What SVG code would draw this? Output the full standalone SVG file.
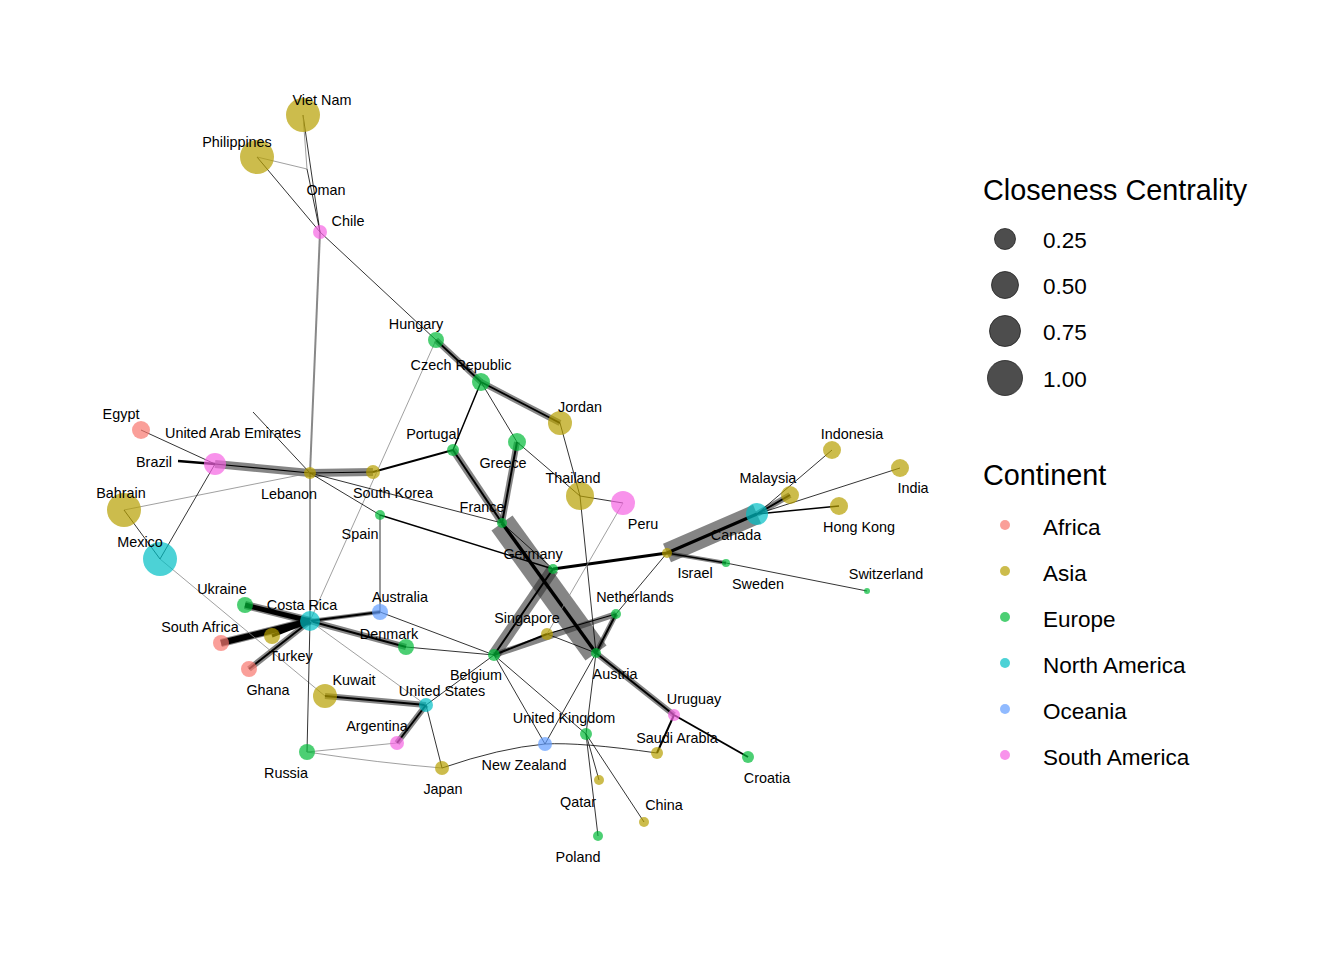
<svg xmlns="http://www.w3.org/2000/svg" width="1344" height="960" viewBox="0 0 1344 960">
<style>
.t{stroke:#000;stroke-width:0.8;fill:none}
.g{stroke:#888;stroke-width:0.8;fill:none}
.b{stroke:#333;stroke-opacity:0.6;fill:none}
.k{stroke:#000;fill:none}
.n circle{fill-opacity:0.7}
.af{fill:#F8766D}.as{fill:#B79F00}.eu{fill:#00BA38}.na{fill:#00BFC4}.oc{fill:#619CFF}.sa{fill:#F564E3}
text{font-family:"Liberation Sans",Arial,sans-serif;fill:#000}
.l{font-size:14.4px;text-anchor:middle}
.lt{font-size:28.8px}
.ll{font-size:22.5px}
</style>
<rect width="1344" height="960" fill="#fff"/>
<g id="edges">
<line class="b" x1="502" y1="523" x2="596" y2="653" stroke-width="26"/>
<line class="b" x1="667" y1="553" x2="757" y2="514" stroke-width="20"/>
<line class="b" x1="553" y1="569" x2="494" y2="655" stroke-width="12"/>
<line class="b" x1="310" y1="473" x2="373" y2="472" stroke-width="8"/>
<line class="b" x1="215" y1="464" x2="310" y2="473" stroke-width="8"/>
<line class="b" x1="436" y1="340" x2="481" y2="382" stroke-width="6"/>
<line class="b" x1="481" y1="382" x2="560" y2="423" stroke-width="6"/>
<line class="b" x1="453" y1="450" x2="502" y2="523" stroke-width="7"/>
<line class="b" x1="517" y1="442" x2="502" y2="523" stroke-width="6"/>
<line class="b" x1="494" y1="655" x2="616" y2="614" stroke-width="6"/>
<line class="b" x1="616" y1="614" x2="596" y2="653" stroke-width="5"/>
<line class="b" x1="667" y1="553" x2="726" y2="563" stroke-width="4"/>
<line class="b" x1="757" y1="514" x2="790" y2="495" stroke-width="6"/>
<line class="b" x1="596" y1="653" x2="674" y2="715" stroke-width="6"/>
<line class="b" x1="397" y1="743" x2="426" y2="705" stroke-width="6"/>
<line class="b" x1="325" y1="696" x2="426" y2="705" stroke-width="6"/>
<line class="b" x1="310" y1="621" x2="245" y2="605" stroke-width="8"/>
<line class="b" x1="310" y1="621" x2="221" y2="643" stroke-width="8"/>
<line class="b" x1="310" y1="621" x2="249" y2="669" stroke-width="6"/>
<line class="b" x1="310" y1="621" x2="380" y2="612" stroke-width="4"/>
<line class="b" x1="310" y1="621" x2="406" y2="647" stroke-width="6"/>
<line x1="320" y1="232" x2="310" y2="473" stroke="#888" stroke-width="2"/>
<line class="k" x1="502" y1="523" x2="596" y2="653" stroke-width="3.5"/>
<line class="k" x1="667" y1="553" x2="757" y2="514" stroke-width="3"/>
<line class="k" x1="553" y1="569" x2="494" y2="655" stroke-width="2"/>
<line class="k" x1="310" y1="473" x2="373" y2="472" stroke-width="1.2"/>
<line class="k" x1="215" y1="464" x2="310" y2="473" stroke-width="1.2"/>
<line class="k" x1="436" y1="340" x2="481" y2="382" stroke-width="1.8"/>
<line class="k" x1="481" y1="382" x2="560" y2="423" stroke-width="1.8"/>
<line class="k" x1="453" y1="450" x2="502" y2="523" stroke-width="2"/>
<line class="k" x1="517" y1="442" x2="502" y2="523" stroke-width="2"/>
<line class="k" x1="494" y1="655" x2="547" y2="634" stroke-width="2"/>
<line class="k" x1="547" y1="634" x2="616" y2="614" stroke-width="1.2"/>
<line class="k" x1="616" y1="614" x2="596" y2="653" stroke-width="2"/>
<line class="k" x1="667" y1="553" x2="726" y2="563" stroke-width="1.5"/>
<line class="k" x1="757" y1="514" x2="790" y2="495" stroke-width="2"/>
<line class="k" x1="596" y1="653" x2="674" y2="715" stroke-width="2"/>
<line class="k" x1="397" y1="743" x2="426" y2="705" stroke-width="2"/>
<line class="k" x1="325" y1="696" x2="426" y2="705" stroke-width="2"/>
<line class="k" x1="310" y1="621" x2="245" y2="605" stroke-width="5"/>
<line class="k" x1="310" y1="621" x2="221" y2="643" stroke-width="6"/>
<line class="k" x1="310" y1="621" x2="272" y2="636" stroke-width="3"/>
<line class="k" x1="310" y1="621" x2="249" y2="669" stroke-width="2"/>
<line class="k" x1="310" y1="621" x2="380" y2="612" stroke-width="2"/>
<line class="k" x1="310" y1="621" x2="406" y2="647" stroke-width="2"/>
<line class="k" x1="453" y1="450" x2="373" y2="472" stroke-width="2"/>
<line class="k" x1="481" y1="382" x2="453" y2="450" stroke-width="1.5"/>
<line class="k" x1="553" y1="569" x2="667" y2="553" stroke-width="3"/>
<line class="k" x1="380" y1="515" x2="553" y2="569" stroke-width="1.5"/>
<line class="k" x1="178" y1="461" x2="215" y2="464" stroke-width="2.5"/>
<line class="k" x1="674" y1="715" x2="748" y2="757" stroke-width="2"/>
<line class="k" x1="674" y1="715" x2="657" y2="753" stroke-width="2"/>
<line class="k" x1="757" y1="514" x2="839" y2="506" stroke-width="1.5"/>
<line class="t" x1="303" y1="115" x2="320" y2="232"/>
<line class="t" x1="257" y1="157" x2="320" y2="232"/>
<line class="g" x1="303" y1="115" x2="307" y2="169"/>
<line class="g" x1="257" y1="157" x2="307" y2="169"/>
<line class="t" x1="307" y1="169" x2="320" y2="232"/>
<line class="t" x1="320" y1="232" x2="436" y2="340" stroke="#444"/>
<line class="t" x1="481" y1="382" x2="517" y2="442"/>
<line class="t" x1="517" y1="442" x2="580" y2="496"/>
<line class="t" x1="560" y1="423" x2="580" y2="496"/>
<line class="t" x1="580" y1="496" x2="596" y2="653"/>
<line class="t" x1="580" y1="496" x2="623" y2="503"/>
<line class="g" x1="623" y1="503" x2="547" y2="634"/>
<line class="g" x1="436" y1="340" x2="310" y2="621"/>
<line class="t" x1="141" y1="430" x2="215" y2="464"/>
<line class="t" x1="253" y1="412" x2="310" y2="473"/>
<line class="g" x1="124" y1="510" x2="310" y2="473"/>
<line class="t" x1="124" y1="510" x2="160" y2="559"/>
<line class="t" x1="215" y1="464" x2="160" y2="559" stroke="#333"/>
<line class="g" x1="160" y1="559" x2="325" y2="696"/>
<line class="t" x1="310" y1="473" x2="380" y2="515"/>
<line class="t" x1="310" y1="473" x2="502" y2="523"/>
<line class="t" x1="310" y1="473" x2="310" y2="621"/>
<line class="t" x1="310" y1="621" x2="307" y2="752"/>
<line class="t" x1="380" y1="515" x2="380" y2="612"/>
<line class="t" x1="502" y1="523" x2="553" y2="569"/>
<line class="t" x1="547" y1="634" x2="596" y2="653"/>
<line class="t" x1="616" y1="614" x2="667" y2="553"/>
<line class="t" x1="726" y1="563" x2="867" y2="591"/>
<line class="t" x1="757" y1="514" x2="832" y2="450"/>
<line class="t" x1="757" y1="514" x2="900" y2="468"/>
<line class="t" x1="596" y1="653" x2="586" y2="734"/>
<line class="t" x1="596" y1="653" x2="545" y2="744"/>
<line class="t" x1="494" y1="655" x2="545" y2="744" stroke="#444"/>
<line class="t" x1="494" y1="655" x2="586" y2="734"/>
<line class="t" x1="586" y1="734" x2="599" y2="780"/>
<line class="t" x1="586" y1="734" x2="598" y2="836"/>
<line class="t" x1="586" y1="734" x2="644" y2="822"/>
<path class="t" d="M545 744 Q580 742 657 753"/>
<path class="t" d="M545 744 Q500 748 442 768"/>
<path class="g" d="M442 768 Q380 763 307 752"/>
<line class="g" x1="307" y1="752" x2="397" y2="743"/>
<line class="t" x1="426" y1="705" x2="442" y2="768"/>
<line class="t" x1="426" y1="705" x2="494" y2="655"/>
<line class="g" x1="310" y1="621" x2="426" y2="705"/>
<line class="t" x1="380" y1="612" x2="494" y2="655"/>
<line class="t" x1="406" y1="647" x2="494" y2="655"/>
</g>
<g id="node-vietnam" class="n"><circle class="as" cx="303" cy="115" r="17"/><text class="l" x="322" y="105">Viet Nam</text></g>
<g id="node-philippines" class="n"><circle class="as" cx="257" cy="157" r="17"/><text class="l" x="237" y="147">Philippines</text></g>
<g id="node-oman" class="n"><text class="l" x="326" y="195">Oman</text></g>
<g id="node-chile" class="n"><circle class="sa" cx="320" cy="232" r="7"/><text class="l" x="348" y="226">Chile</text></g>
<g id="node-hungary" class="n"><circle class="eu" cx="436" cy="340" r="8"/><text class="l" x="416" y="329">Hungary</text></g>
<g id="node-czech" class="n"><circle class="eu" cx="481" cy="382" r="9"/><text class="l" x="461" y="370">Czech Republic</text></g>
<g id="node-jordan" class="n"><circle class="as" cx="560" cy="423" r="12"/><text class="l" x="580" y="412">Jordan</text></g>
<g id="node-portugal" class="n"><circle class="eu" cx="453" cy="450" r="6"/><text class="l" x="433" y="439">Portugal</text></g>
<g id="node-greece" class="n"><circle class="eu" cx="517" cy="442" r="9"/><text class="l" x="503" y="468">Greece</text></g>
<g id="node-thailand" class="n"><circle class="as" cx="580" cy="496" r="14"/><text class="l" x="573" y="483">Thailand</text></g>
<g id="node-peru" class="n"><circle class="sa" cx="623" cy="503" r="12"/><text class="l" x="643" y="529">Peru</text></g>
<g id="node-france" class="n"><circle class="eu" cx="502" cy="523" r="5"/><text class="l" x="482" y="512">France</text></g>
<g id="node-germany" class="n"><circle class="eu" cx="553" cy="569" r="5"/><text class="l" x="533" y="559">Germany</text></g>
<g id="node-egypt" class="n"><circle class="af" cx="141" cy="430" r="9"/><text class="l" x="121" y="419">Egypt</text></g>
<g id="node-uae" class="n"><text class="l" x="233" y="438">United Arab Emirates</text></g>
<g id="node-brazil" class="n"><circle class="sa" cx="215" cy="464" r="11"/><text class="l" x="154" y="467">Brazil</text></g>
<g id="node-lebanon" class="n"><circle class="as" cx="310" cy="473" r="6"/><text class="l" x="289" y="499">Lebanon</text></g>
<g id="node-southkorea" class="n"><circle class="as" cx="373" cy="472" r="7"/><text class="l" x="393" y="498">South Korea</text></g>
<g id="node-bahrain" class="n"><circle class="as" cx="124" cy="510" r="17"/><text class="l" x="121" y="498">Bahrain</text></g>
<g id="node-mexico" class="n"><circle class="na" cx="160" cy="559" r="17"/><text class="l" x="140" y="547">Mexico</text></g>
<g id="node-spain" class="n"><circle class="eu" cx="380" cy="515" r="5"/><text class="l" x="360" y="539">Spain</text></g>
<g id="node-ukraine" class="n"><circle class="eu" cx="245" cy="605" r="8"/><text class="l" x="222" y="594">Ukraine</text></g>
<g id="node-costarica" class="n"><circle class="na" cx="310" cy="621" r="10"/><text class="l" x="302" y="610">Costa Rica</text></g>
<g id="node-australia" class="n"><circle class="oc" cx="380" cy="612" r="8"/><text class="l" x="400" y="602">Australia</text></g>
<g id="node-southafrica" class="n"><circle class="af" cx="221" cy="643" r="8"/><text class="l" x="200" y="632">South Africa</text></g>
<g id="node-turkey" class="n"><circle class="as" cx="272" cy="636" r="8"/><text class="l" x="291" y="661">Turkey</text></g>
<g id="node-denmark" class="n"><circle class="eu" cx="406" cy="647" r="8"/><text class="l" x="389" y="639">Denmark</text></g>
<g id="node-ghana" class="n"><circle class="af" cx="249" cy="669" r="8"/><text class="l" x="268" y="695">Ghana</text></g>
<g id="node-kuwait" class="n"><circle class="as" cx="325" cy="696" r="12"/><text class="l" x="354" y="685">Kuwait</text></g>
<g id="node-unitedstates" class="n"><circle class="na" cx="426" cy="705" r="7"/><text class="l" x="442" y="696">United States</text></g>
<g id="node-argentina" class="n"><circle class="sa" cx="397" cy="743" r="7"/><text class="l" x="377" y="731">Argentina</text></g>
<g id="node-russia" class="n"><circle class="eu" cx="307" cy="752" r="8"/><text class="l" x="286" y="778">Russia</text></g>
<g id="node-japan" class="n"><circle class="as" cx="442" cy="768" r="7"/><text class="l" x="443" y="794">Japan</text></g>
<g id="node-belgium" class="n"><circle class="eu" cx="494" cy="655" r="6"/><text class="l" x="476" y="680">Belgium</text></g>
<g id="node-singapore" class="n"><circle class="as" cx="547" cy="634" r="6"/><text class="l" x="527" y="623">Singapore</text></g>
<g id="node-netherlands" class="n"><circle class="eu" cx="616" cy="614" r="5"/><text class="l" x="635" y="602">Netherlands</text></g>
<g id="node-austria" class="n"><circle class="eu" cx="596" cy="653" r="5"/><text class="l" x="615" y="679">Austria</text></g>
<g id="node-israel" class="n"><circle class="as" cx="667" cy="553" r="5"/><text class="l" x="695" y="578">Israel</text></g>
<g id="node-canada" class="n"><circle class="na" cx="757" cy="514" r="11"/><text class="l" x="736" y="540">Canada</text></g>
<g id="node-malaysia" class="n"><circle class="as" cx="790" cy="495" r="9"/><text class="l" x="768" y="483">Malaysia</text></g>
<g id="node-indonesia" class="n"><circle class="as" cx="832" cy="450" r="9"/><text class="l" x="852" y="439">Indonesia</text></g>
<g id="node-india" class="n"><circle class="as" cx="900" cy="468" r="9"/><text class="l" x="913" y="493">India</text></g>
<g id="node-hongkong" class="n"><circle class="as" cx="839" cy="506" r="9"/><text class="l" x="859" y="532">Hong Kong</text></g>
<g id="node-sweden" class="n"><circle class="eu" cx="726" cy="563" r="4"/><text class="l" x="758" y="589">Sweden</text></g>
<g id="node-switzerland" class="n"><circle class="eu" cx="867" cy="591" r="3"/><text class="l" x="886" y="579">Switzerland</text></g>
<g id="node-uruguay" class="n"><circle class="sa" cx="674" cy="715" r="6"/><text class="l" x="694" y="704">Uruguay</text></g>
<g id="node-croatia" class="n"><circle class="eu" cx="748" cy="757" r="6"/><text class="l" x="767" y="783">Croatia</text></g>
<g id="node-unitedkingdom" class="n"><circle class="eu" cx="586" cy="734" r="6"/><text class="l" x="564" y="723">United Kingdom</text></g>
<g id="node-newzealand" class="n"><circle class="oc" cx="545" cy="744" r="7"/><text class="l" x="524" y="770">New Zealand</text></g>
<g id="node-saudiarabia" class="n"><circle class="as" cx="657" cy="753" r="6"/><text class="l" x="677" y="743">Saudi Arabia</text></g>
<g id="node-qatar" class="n"><circle class="as" cx="599" cy="780" r="5"/><text class="l" x="578" y="807">Qatar</text></g>
<g id="node-china" class="n"><circle class="as" cx="644" cy="822" r="5"/><text class="l" x="664" y="810">China</text></g>
<g id="node-poland" class="n"><circle class="eu" cx="598" cy="836" r="5"/><text class="l" x="578" y="862">Poland</text></g>
<g id="legend-size">
<text class="lt" x="983" y="200">Closeness Centrality</text>
<g fill="#4D4D4D" stroke="#222" stroke-width="0.8">
<circle cx="1005" cy="239" r="10.5"/>
<circle cx="1005" cy="285" r="13.5"/>
<circle cx="1005" cy="331" r="15.5"/>
<circle cx="1005" cy="378" r="17.5"/>
</g>
<text class="ll" x="1043" y="248">0.25</text>
<text class="ll" x="1043" y="294">0.50</text>
<text class="ll" x="1043" y="340">0.75</text>
<text class="ll" x="1043" y="387">1.00</text>
</g>
<g id="legend-continent" class="n">
<text class="lt" x="983" y="485">Continent</text>
<circle class="af" cx="1005" cy="525" r="5"/>
<circle class="as" cx="1005" cy="571" r="5"/>
<circle class="eu" cx="1005" cy="617" r="5"/>
<circle class="na" cx="1005" cy="663" r="5"/>
<circle class="oc" cx="1005" cy="709" r="5"/>
<circle class="sa" cx="1005" cy="755" r="5"/>
<text class="ll" x="1043" y="535">Africa</text>
<text class="ll" x="1043" y="581">Asia</text>
<text class="ll" x="1043" y="627">Europe</text>
<text class="ll" x="1043" y="673">North America</text>
<text class="ll" x="1043" y="719">Oceania</text>
<text class="ll" x="1043" y="765">South America</text>
</g>
</svg>
